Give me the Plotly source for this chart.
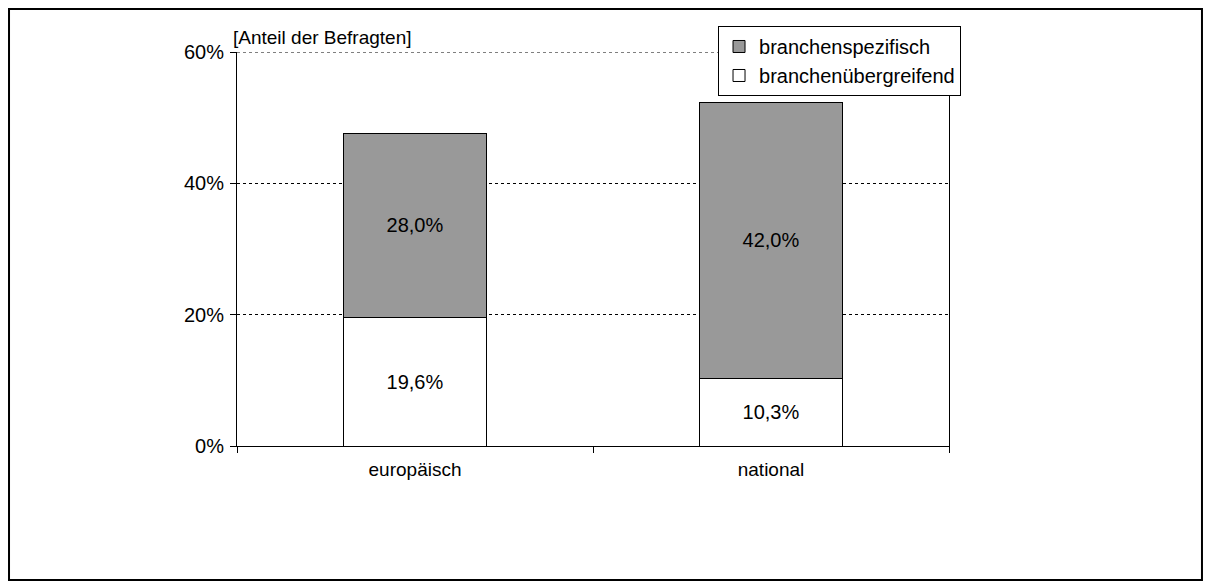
import plotly.graph_objects as go

# Daten
kategorien = ["europäisch", "national"]
uebergreifend = [19.6, 10.3]
spezifisch = [28.0, 42.0]
y_ticks = [0, 20, 40, 60]
y_ticktext = ["0%", "20%", "40%", "60%"]


def fmt(v):
    return f"{v:.1f}%".replace(".", ",")


fig = go.Figure()
fig.add_trace(go.Bar(
    x=kategorien, y=uebergreifend, name="branchenübergreifend",
    marker=dict(color="white", line=dict(color="black", width=1)),
    text=[fmt(v) for v in uebergreifend], textposition="inside",
    insidetextanchor="middle", textfont=dict(color="black", size=20),
))
fig.add_trace(go.Bar(
    x=kategorien, y=spezifisch, name="branchenspezifisch",
    marker=dict(color="#999999", line=dict(color="black", width=1)),
    text=[fmt(v) for v in spezifisch], textposition="inside",
    insidetextanchor="middle", textfont=dict(color="black", size=20),
))

fig.update_layout(
    barmode="stack",
    bargap=0.596,
    width=1195, height=573,
    margin=dict(l=229, r=254, t=44, b=135),
    paper_bgcolor="white", plot_bgcolor="white",
    font=dict(family="Liberation Sans, Arial, sans-serif", size=20, color="black"),
    showlegend=True,
    legend=dict(
        x=0.6756, y=1.066, xanchor="left", yanchor="top",
        traceorder="reversed", bgcolor="white",
        bordercolor="black", borderwidth=1,
        font=dict(size=20), tracegroupgap=0,
        itemwidth=30,
    ),
    uniformtext=dict(mode="show", minsize=10),
)

fig.update_xaxes(
    showline=True, linecolor="black", linewidth=1,
    ticks="outside", ticklen=6, tickcolor="black",
    tickson="boundaries", showgrid=False,
    tickfont=dict(size=19), ticklabelstandoff=6,
)
fig.update_yaxes(
    range=[0, 60], tickvals=y_ticks, ticktext=y_ticktext,
    showline=True, mirror=True, linecolor="black", linewidth=1,
    ticks="outside", ticklen=6, tickcolor="black",
    showgrid=True, gridcolor="black", gridwidth=1, griddash="dot",
    zeroline=False, tickfont=dict(size=20), ticklabelstandoff=2,
)

# oberste Gitterlinie (60%) wird von plotly am Rand weggelassen
fig.add_shape(
    type="line", xref="paper", yref="y",
    x0=0, x1=1, y0=y_ticks[-1], y1=y_ticks[-1],
    line=dict(color="black", width=1, dash="dot"), layer="below",
)

fig.add_annotation(
    text="[Anteil der Befragten]", xref="paper", yref="paper",
    x=-0.008, y=1.004, xanchor="left", yanchor="bottom",
    showarrow=False, font=dict(size=19),
)

# Rahmen um die ganze Grafik
fig.add_shape(
    type="rect", xref="paper", yref="paper",
    x0=-0.3202, x1=1.3553, y0=-0.3401, y1=1.1091,
    line=dict(color="black", width=2), layer="below",
)

fig.write_html("out.html")
